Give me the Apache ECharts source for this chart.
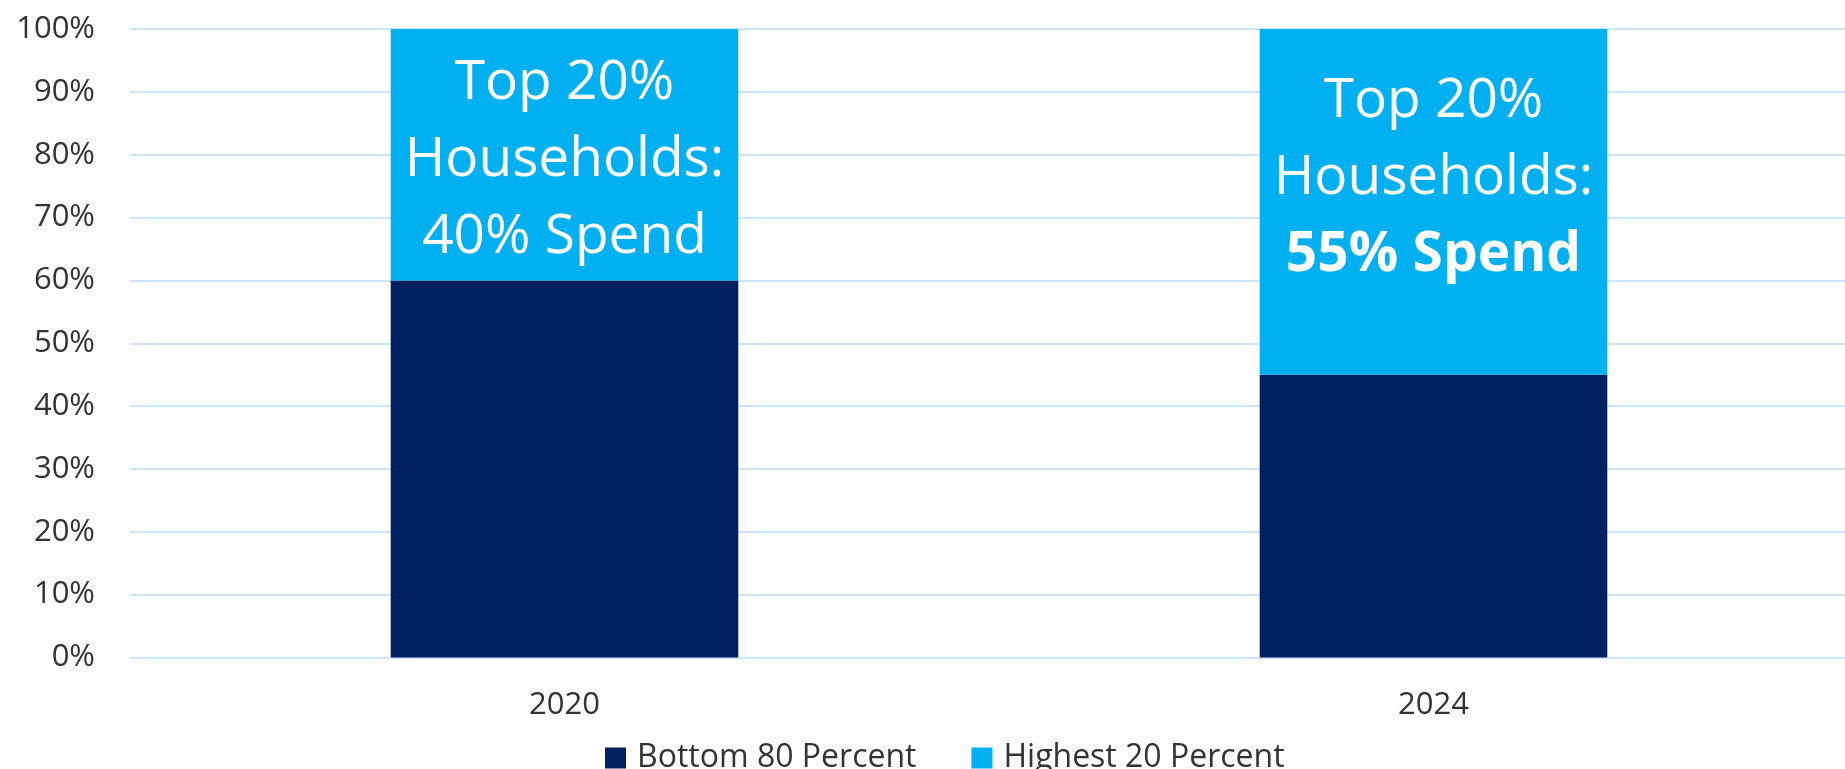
<!DOCTYPE html>
<html>
<head>
<meta charset="utf-8">
<style>
  html, body { margin: 0; padding: 0; background: #ffffff; }
  #chart { width: 1845px; height: 769px; }
</style>
<script src="https://cdn.jsdelivr.net/npm/echarts@6/dist/echarts.min.js"></script>
</head>
<body>
<div id="chart"></div>
<script>
// Share of consumer spending by household income group
const years = ['2020', '2024'];
const bottom80 = [60, 45];
const highest20 = [40, 55];
const seriesNames = ['Bottom 80 Percent', 'Highest 20 Percent'];
// vertical nudge of the annotation inside each top segment
const labelShift = [6, -24];
// which annotation gets its spend figure in bold
const boldSpend = [false, true];

const FONT = '"Open Sans", "Liberation Sans", sans-serif';
const TEXT = '#333333';

const chart = echarts.init(document.getElementById('chart'), null, { renderer: 'canvas' });

chart.setOption({
  animation: false,
  textStyle: { fontFamily: FONT },
  // plot area runs past the right edge of the canvas
  grid: {
    left: 130, width: 1738, top: 29, bottom: 111.5,
    containLabel: false, outerBoundsMode: 'none'
  },
  legend: {
    data: seriesNames,
    left: 600,
    top: 737,
    itemWidth: 21,
    itemHeight: 21,
    itemGap: 55,
    icon: 'rect',
    textStyle: {
      fontFamily: FONT, fontSize: 32, color: TEXT,
      lineHeight: 31, padding: [0, 0, 0, 6]
    }
  },
  xAxis: {
    type: 'category',
    data: years,
    axisLine: { show: false },
    axisTick: { show: false },
    axisLabel: { fontFamily: FONT, fontSize: 31, color: TEXT, margin: 32 }
  },
  yAxis: {
    type: 'value',
    min: 0,
    max: 100,
    interval: 10,
    axisLine: { show: false },
    axisTick: { show: false },
    axisLabel: { fontFamily: FONT, fontSize: 31, color: TEXT, margin: 35, formatter: '{value}%' },
    splitLine: { lineStyle: { color: '#cde4fb', width: 2 } }
  },
  series: [
    {
      name: seriesNames[0],
      type: 'bar',
      stack: 'share',
      barWidth: '40%',
      itemStyle: { color: '#002060' },
      data: bottom80
    },
    {
      name: seriesNames[1],
      type: 'bar',
      stack: 'share',
      barWidth: '40%',
      itemStyle: { color: '#00b0f0' },
      data: highest20.map((v, i) => ({
        value: v,
        label: {
          show: true,
          position: 'inside',
          offset: [0, labelShift[i]],
          formatter: p => '{n|Top 20%}\n{n|Households:}\n{' + (boldSpend[i] ? 'b' : 'n') + '|' + p.value + '% Spend}',
          rich: {
            n: { fontFamily: FONT, fontSize: 55, lineHeight: 77, color: '#ffffff' },
            b: { fontFamily: FONT, fontSize: 55, lineHeight: 77, color: '#ffffff', fontWeight: 'bold' }
          }
        }
      }))
    }
  ]
});
</script>
</body>
</html>
